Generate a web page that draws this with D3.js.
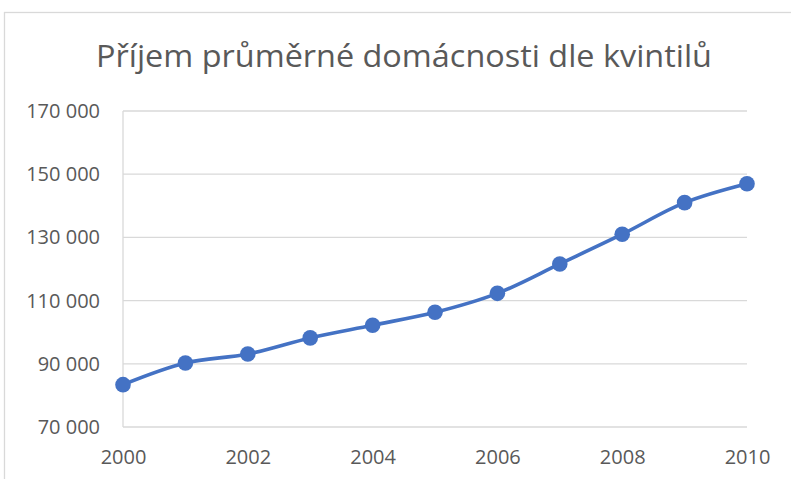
<!DOCTYPE html>
<html>
<head>
<meta charset="utf-8">
<script src="https://cdn.jsdelivr.net/npm/d3@7"></script>
<style>
  body { margin: 0; background: #fff; }
  text { font-family: "Open Sans", "Noto Sans", sans-serif; fill: #595959; }
</style>
</head>
<body>
<script>
// data
const years = [2000, 2001, 2002, 2003, 2004, 2005, 2006, 2007, 2008, 2009, 2010]
const income = [83400, 90250, 93100, 98200, 102200, 106300, 112300, 121600, 131000, 141000, 147000]
const yTicks = [70000, 90000, 110000, 130000, 150000, 170000]
const xTicks = [2000, 2002, 2004, 2006, 2008, 2010]
const title = 'Příjem průměrné domácnosti dle kvintilů'

const W = 791, H = 479
const margin = { top: 111, left: 123, right: 44, bottom: 52 }
const width = W - margin.left - margin.right,
  height = H - margin.top - margin.bottom

const svg = d3.select('body')
  .append('svg')
  .attr('width', W)
  .attr('height', H)

// chart frame
svg.append('rect')
  .attr('x', 4.5)
  .attr('y', 12.5)
  .attr('width', W + 10)
  .attr('height', H + 10)
  .attr('fill', 'none')
  .attr('stroke', '#d9d9d9')
  .attr('stroke-width', 1.3)

svg.append('text')
  .attr('x', 96)
  .attr('y', 67)
  .attr('textLength', 616)
  .attr('lengthAdjust', 'spacingAndGlyphs')
  .style('font-size', '31px')
  .text(title)

const g = svg.append('g')
  .attr('transform', `translate(${margin.left}, ${margin.top})`)

const x = d3.scaleLinear()
  .domain([2000, 2010])
  .range([0, width])

const y = d3.scaleLinear()
  .domain([70000, 170000])
  .range([height, 0])

const fmt = d => d3.format(',')(d).replace(/,/g, ' ')

// gridlines
g.append('g')
  .selectAll('line')
  .data(yTicks)
  .enter()
  .append('line')
  .attr('x1', 0)
  .attr('x2', width)
  .attr('y1', d => y(d))
  .attr('y2', d => y(d))
  .attr('stroke', '#d9d9d9')
  .attr('stroke-width', 1.3)

// left axis line
g.append('line')
  .attr('x1', 0).attr('x2', 0)
  .attr('y1', 0).attr('y2', height)
  .attr('stroke', '#d9d9d9')
  .attr('stroke-width', 1.3)

const yAxis = d3.axisLeft(y)
  .tickValues(yTicks)
  .tickFormat(fmt)
  .tickSize(0)
  .tickPadding(23)

g.append('g')
  .call(yAxis)
  .call(a => a.select('.domain').remove())
  .selectAll('text')
  .style('font-size', '20px')
  .attr('fill', '#595959')

const xAxis = d3.axisBottom(x)
  .tickValues(xTicks)
  .tickFormat(d3.format('d'))
  .tickSize(0)
  .tickPadding(23)

g.append('g')
  .attr('transform', `translate(0, ${height})`)
  .call(xAxis)
  .call(a => a.select('.domain').remove())
  .selectAll('text')
  .style('font-size', '20px')
  .attr('fill', '#595959')

const pts = years.map((yr, i) => [yr, income[i]])

const line = d3.line()
  .x(d => x(d[0]))
  .y(d => y(d[1]))
  .curve(d3.curveCatmullRom.alpha(0.5))

g.append('path')
  .datum(pts)
  .attr('d', line)
  .attr('fill', 'none')
  .attr('stroke', '#4472c4')
  .attr('stroke-width', 3.6)
  .attr('stroke-linecap', 'round')

g.append('g')
  .selectAll('circle')
  .data(pts)
  .enter()
  .append('circle')
  .attr('cx', d => x(d[0]))
  .attr('cy', d => y(d[1]))
  .attr('r', 7.8)
  .attr('fill', '#4472c4')
</script>
</body>
</html>
